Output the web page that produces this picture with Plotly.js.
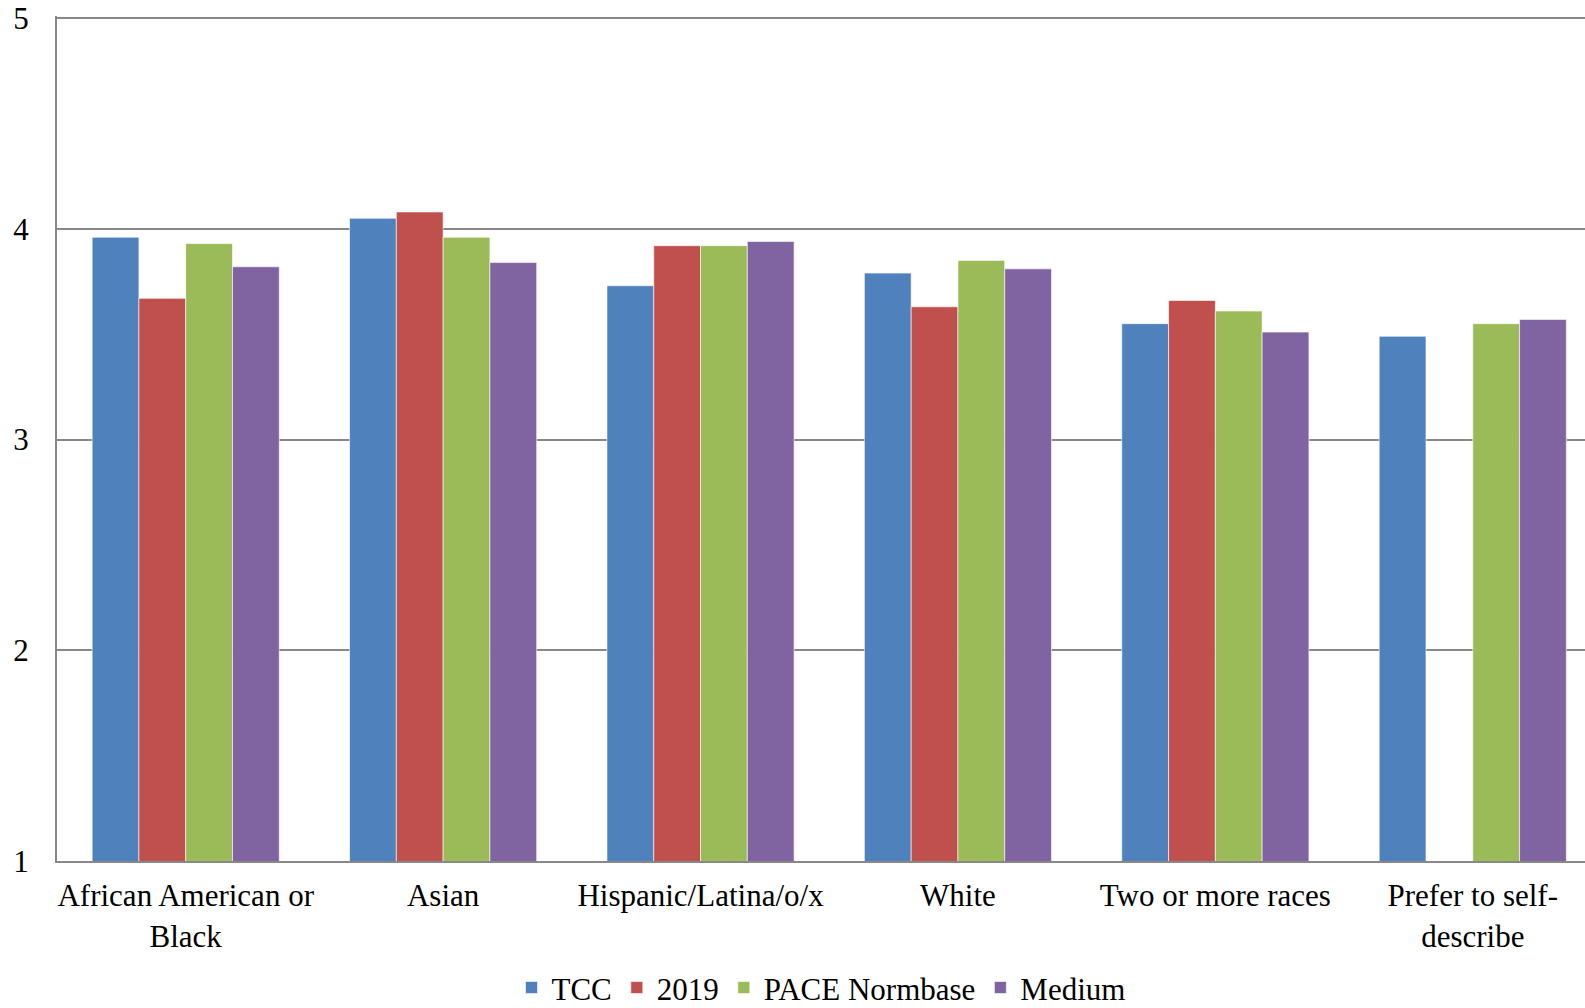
<!DOCTYPE html>
<html>
<head>
<meta charset="utf-8">
<script src="https://cdn.plot.ly/plotly-3.0.1.min.js"></script>
<style>html,body{margin:0;padding:0;background:#fff;}#chart{width:1585px;height:1008px;}</style>
</head>
<body>
<div id="chart"></div>
<script>
const categories = ["African American or<br>Black", "Asian", "Hispanic/Latina/o/x", "White", "Two or more races", "Prefer to self-<br>describe"];
const seriesNames = ["TCC", "2019", "PACE Normbase", "Medium"];
const tcc = [3.96, 4.05, 3.73, 3.79, 3.55, 3.49];
const y2019 = [3.67, 4.08, 3.92, 3.63, 3.66, 0];
const pace = [3.93, 3.96, 3.92, 3.85, 3.61, 3.55];
const medium = [3.82, 3.84, 3.94, 3.81, 3.51, 3.57];
const yTicks = [1, 2, 3, 4, 5];

const colors = ["#4F81BD", "#C0504D", "#9BBB59", "#8064A2"];
const values = [tcc, y2019, pace, medium];

const traces = values.map((v, i) => ({
  type: "bar",
  name: seriesNames[i],
  x: categories,
  y: v,
  marker: {color: colors[i], line: {color: "rgba(255,255,255,0.6)", width: 1}},
  hoverinfo: "y+name"
}));

const font = {family: "Liberation Serif, Times New Roman, serif", size: 31, color: "#000"};

const layout = {
  width: 1585, height: 1008,
  margin: {l: 57, r: 0, t: 16, b: 147, autoexpand: false},
  paper_bgcolor: "#fff", plot_bgcolor: "#fff",
  font: font,
  barmode: "group",
  bargap: 0.273,
  bargroupgap: 0,
  showlegend: true,
  legend: {orientation: "h", x: 0.5, xanchor: "center", yref: "container", y: 0.02, yanchor: "middle",
           font: font, tracegroupgap: 0},
  xaxis: {
    type: "category",
    range: [-0.5, 5.436],
    showline: true, linecolor: "#888", linewidth: 2,
    showgrid: false, ticks: "", tickfont: font,
    ticklabelstandoff: 6,
    fixedrange: true
  },
  yaxis: {
    range: [1, 5.01],
    tickvals: yTicks,
    ticktext: yTicks.map(String),
    showline: true, linecolor: "#888", linewidth: 2,
    showgrid: true, gridcolor: "#888", gridwidth: 2,
    zeroline: false, ticks: "", tickfont: font,
    ticklabelstandoff: 20,
    fixedrange: true
  }
};

Plotly.newPlot("chart", traces, layout, {displayModeBar: false, staticPlot: true});
</script>
</body>
</html>
